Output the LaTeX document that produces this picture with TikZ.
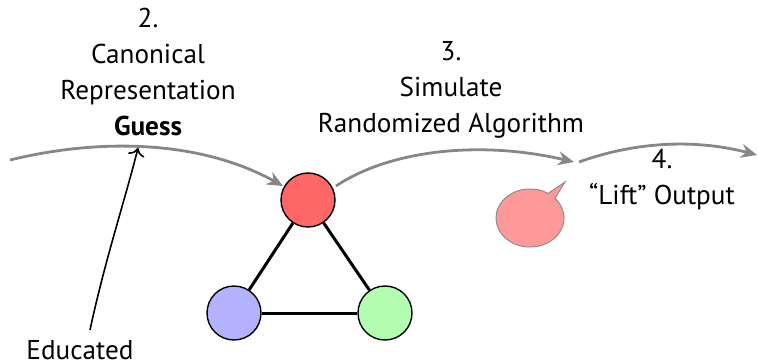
\documentclass[tikz,border=0pt]{standalone}
\usepackage{fontspec}
\setmainfont{PT Sans}
\usetikzlibrary{arrows.meta,shapes.callouts}
\begin{document}
\begin{tikzpicture}[x=0.5pt,y=-0.5pt,
  lbl/.style={align=center,font=\fontsize{13.6}{18}\selectfont,inner sep=0pt},
  vtx/.style={circle,draw=black,line width=0.7pt,minimum size=27pt,inner sep=0pt},
  flow/.style={draw=black!47,line width=1.4pt,-{Stealth[length=8pt,width=7pt]}},
  edge/.style={line width=1.5pt}]
\useasboundingbox (0,0) rectangle (758,363);
\node[lbl] (t2) at (148,72) {2.\\Canonical\\Representation\\\textbf{Guess}};
\node[lbl] (t3) at (451,90) {3.\\Simulate\\Randomized Algorithm};
\node[lbl] (t4) at (662,180) {4.\\``Lift'' Output};
\node[lbl,anchor=base] (edu) at (80,359) {Educated};
\node[vtx,fill=red!60] (r) at (308,200) {};
\node[vtx,fill=blue!30] (b) at (234,313) {};
\node[vtx,fill=green!30] (g) at (385,313) {};
\draw[edge] (r) -- (b);
\draw[edge] (r) -- (g);
\draw[edge] (b) -- (g);
\coordinate (a0) at (10,160);
\coordinate (a1) at (283,186);
\coordinate (guess) at (138,148);
\coordinate (c0) at (336,186);
\coordinate (c1) at (574,162);
\coordinate (d0) at (579,162);
\coordinate (d1) at (757,155);
\draw[flow] (a0) .. controls (100,138) and (200,140) .. (a1);
\draw[flow] (c0) .. controls (390,150) and (480,140) .. (c1);
\draw[flow] (d0) .. controls (640,140) and (700,140) .. (d1);
\coordinate (eduTop) at (90,330);
\draw[black,line width=0.8pt,-{To[length=4pt]}] (eduTop) .. controls (105,260) and (125,200) .. (guess);
\node[ellipse callout,draw=black!45,fill=red!40,minimum width=34pt,minimum height=29pt,
  callout absolute pointer={(565,182)},line width=0.5pt] (bub) at (530,218) {};
\end{tikzpicture}
\end{document}
